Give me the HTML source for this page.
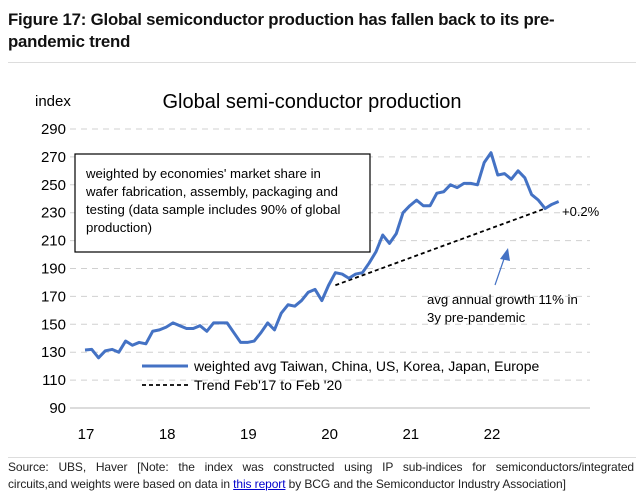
<!DOCTYPE html>
<html><head><meta charset="utf-8">
<style>
body{margin:0;background:#fff;width:640px;height:496px;overflow:hidden;font-family:"Liberation Sans",sans-serif;position:relative}
.t{position:absolute;white-space:nowrap}
</style></head><body>
<div class="t" style="left:8px;top:9px;font-size:16.8px;font-weight:bold;line-height:22px;color:#111;letter-spacing:-0.2px">Figure 17: Global semiconductor production has fallen back to its pre-<br>pandemic trend</div>
<div style="position:absolute;left:8px;top:62px;width:628px;height:1px;background:#ddd"></div>
<svg id="chart" width="640" height="496" style="position:absolute;left:0;top:0"></svg>
<div style="position:absolute;left:8px;top:457px;width:628px;height:1px;background:#ddd"></div>
<div class="t" style="left:8px;top:459px;width:626px;white-space:normal;font-size:12px;line-height:17px;color:#222;letter-spacing:-0.1px"><div style="text-align:justify;text-align-last:justify;white-space:nowrap">Source: UBS, Haver [Note: the index was constructed using IP sub-indices for semiconductors/integrated</div><div style="white-space:nowrap">circuits,and weights were based on data in <span style="color:#00c;text-decoration:underline">this report</span> by BCG and the Semiconductor Industry Association]</div></div>
<script>
const yTicks=[90,110,130,150,170,190,210,230,250,270,290];
const xTickLabels=["17","18","19","20","21","22"];
const series=[131.6,132,126,131,132,130,138,135,137,136,145,146,148,151,149,147,147,149,145,151,151,151,144,137,137,138,144,151,146,158,164,163,167,173,175,167,178,187,186,183,186,187,194,202,214,208,215,230,235,239,235,235,244,245,250,248,251,251,250,266,273,257,258,254,260,255,243,239,233,236,238];
const trendMonths=[37,68];
const trendValues=[178,233];
const NS="http://www.w3.org/2000/svg";
const svg=document.getElementById('chart');
const X=m=>85+m*(81.2/12);
const Y=v=>408-(v-90)*(279/200);
function mk(t,a){const e=document.createElementNS(NS,t);for(const k in a)e.setAttribute(k,a[k]);svg.appendChild(e);return e;}
yTicks.forEach(v=>{
  if(v>90){const g=mk('line',{x1:70,x2:590,y1:Y(v),y2:Y(v),stroke:'#d0d0d0','stroke-dasharray':'6,5','stroke-width':1});
  
  }
  const t=mk('text',{x:66,y:Y(v)+5,'text-anchor':'end','font-size':15,fill:'#000','font-family':'Liberation Sans'});t.textContent=v;
  
  
});
const ax=mk('line',{x1:70,x2:590,y1:Y(90),y2:Y(90),stroke:'#d0d0d0','stroke-width':1.5});


xTickLabels.forEach((l,i)=>{const t=mk('text',{x:X(i*12)+1,y:439,'text-anchor':'middle','font-size':15,fill:'#000','font-family':'Liberation Sans'});t.textContent=l;
  
  });
const it=mk('text',{x:35,y:106,'font-size':15,'font-family':'Liberation Sans'});it.textContent='index';


const ct=mk('text',{x:312,y:108,'text-anchor':'middle','font-size':20,'font-family':'Liberation Sans'});ct.textContent='Global semi-conductor production';


const tr=mk('polyline',{points:trendMonths.map((m,i)=>X(m)+','+Y(trendValues[i])).join(' '),fill:'none',stroke:'#000','stroke-width':1.8,'stroke-dasharray':'4,3'});


const ln=mk('polyline',{points:series.map((v,i)=>X(i)+','+Y(v)).join(' '),fill:'none',stroke:'#4472c4','stroke-width':3,'stroke-linejoin':'round'});


const bx=mk('rect',{x:75,y:154,width:295,height:98,fill:'#fff',stroke:'#000','stroke-width':1.2});


["weighted by economies' market share in","wafer fabrication, assembly, packaging and","testing (data sample includes 90% of global","production)"].forEach((s,i)=>{const t=mk('text',{x:86,y:178+i*18,'font-size':13.2,'font-family':'Liberation Sans'});t.textContent=s;
  
  });
const l1=mk('line',{x1:142,x2:188,y1:366,y2:366,stroke:'#4472c4','stroke-width':3});


const lt1=mk('text',{x:194,y:371,'font-size':14,'font-family':'Liberation Sans'});lt1.textContent='weighted avg Taiwan, China, US, Korea, Japan, Europe';


const l2=mk('line',{x1:142,x2:188,y1:385,y2:385,stroke:'#000','stroke-width':1.8,'stroke-dasharray':'4,3'});


const lt2=mk('text',{x:194,y:390,'font-size':14,'font-family':'Liberation Sans'});lt2.textContent="Trend Feb'17 to Feb '20";


const p=mk('text',{x:562,y:216,'font-size':13,'font-family':'Liberation Sans'});p.textContent='+0.2%';


const ar=mk('line',{x1:495,y1:285,x2:505,y2:256,stroke:'#4472c4','stroke-width':1.2});


const ah=mk('polygon',{points:'508,248 500,259 510,261',fill:'#4472c4'});


["avg annual growth 11% in","3y pre-pandemic"].forEach((s,i)=>{const t=mk('text',{x:427,y:304+i*18,'font-size':13.2,'font-family':'Liberation Sans'});t.textContent=s;
  
  });
</script>
</body></html>
